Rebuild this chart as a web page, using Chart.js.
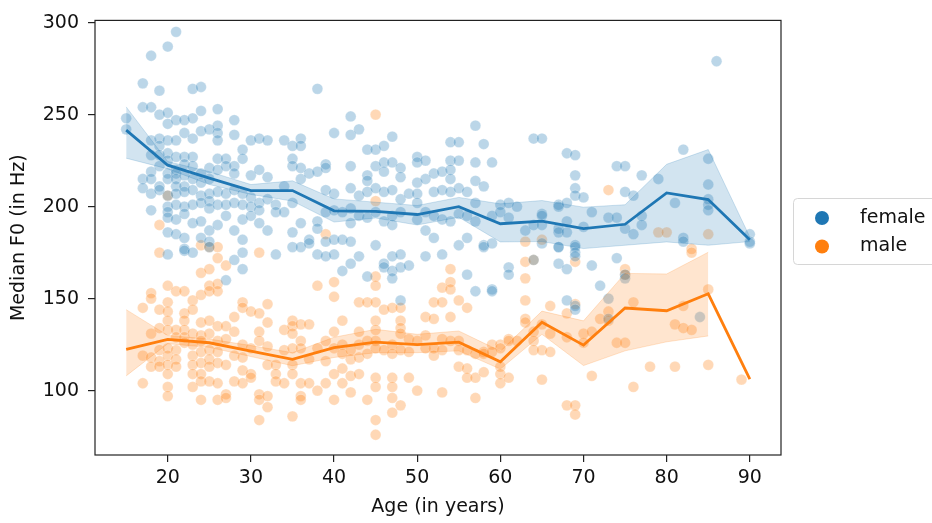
<!DOCTYPE html>
<html>
<head>
<meta charset="utf-8">
<script src="https://cdn.jsdelivr.net/npm/chart.js@4.4.1/dist/chart.umd.min.js"></script>
<style>
  html, body { margin: 0; padding: 0; background: #fff; }
</style>
</head>
<body>
<canvas id="f0-by-age" width="932" height="523"></canvas>
<script>
// [age, median F0]
const femalePoints = [
  [15,248],[15,242],
  [17,267],[17,254],[17,215],[17,210],
  [18,282],[18,254],[18,236],[18,228],[18,219],[18,215],[18,207],[18,198],
  [19,263],[19,250],[19,237],[19,233],[19,228],[19,222],[19,211],[19,209],
  [20,287],[20,251],[20,245],[20,236],[20,229],[20,225],[20,218],[20,215],[20,206],[20,200],[20,197],[20,194],[20,186],[20,174],
  [21,295],[21,247],[21,236],[21,227],[21,220],[21,218],[21,215],[21,211],[21,207],[21,201],[21,193],[21,185],
  [22,247],[22,240],[22,227],[22,223],[22,217],[22,211],[22,208],[22,200],[22,196],[22,183],[22,177],[22,176],
  [23,264],[23,248],[23,237],[23,227],[23,222],[23,215],[23,209],[23,201],[23,191],[23,175],
  [24,265],[24,252],[24,241],[24,218],[24,213],[24,206],[24,202],[24,192],[24,183],
  [25,242],[25,221],[25,215],[25,207],[25,203],[25,199],[25,187],[25,181],[25,178],
  [26,253],[26,244],[26,240],[26,236],[26,226],[26,220],[26,208],[26,201],[26,190],
  [27,226],[27,222],[27,207],[27,201],[27,195],[27,160],
  [28,247],[28,239],[28,222],[28,218],[28,209],[28,202],[28,187],[28,171],
  [29,231],[29,226],[29,207],[29,201],[29,193],[29,182],[29,175],[29,166],
  [30,236],[30,217],[30,205],[30,200],[30,195],
  [31,237],[31,220],[31,202],[31,198],[31,191],
  [32,236],[32,216],[32,204],[32,187],
  [33,201],[33,197],[33,174],
  [34,236],[34,211],[34,197],
  [35,233],[35,226],[35,222],[35,202],[35,186],[35,178],
  [36,237],[36,233],[36,221],[36,215],[36,191],[36,178],
  [37,218],[37,182],[37,180],
  [38,264],[38,219],[38,192],[38,188],[38,174],
  [39,223],[39,221],[39,209],[39,197],[39,181],[39,173],
  [40,240],[40,207],[40,198],[40,182],[40,174],
  [41,197],[41,182],[41,165],
  [42,249],[42,239],[42,222],[42,210],[42,199],[42,191],[42,181],[42,169],
  [43,242],[43,206],[43,195],[43,173],
  [44,231],[44,217],[44,214],[44,208],[44,194],[44,162],
  [45,231],[45,222],[45,210],[45,197],[45,179],
  [46,233],[46,224],[46,219],[46,208],[46,192],[46,169],[46,167],
  [47,238],[47,224],[47,209],[47,195],[47,190],[47,173],[47,165],[47,161],
  [48,221],[48,216],[48,204],[48,197],[48,174],[48,167],[48,149],
  [49,207],[49,168],
  [50,227],[50,224],[50,213],[50,207],[50,202],[50,193],
  [51,225],[51,215],[51,197],[51,187],[51,173],
  [52,218],[52,208],[52,195],[52,183],
  [53,219],[53,209],[53,193],[53,174],
  [54,235],[54,225],[54,220],[54,215],[54,208],[54,192],
  [55,235],[55,225],[55,210],[55,196],[55,179],
  [56,208],[56,195],[56,183],[56,163],
  [57,244],[57,224],[57,214],[57,202],[57,192],[57,154],
  [58,234],[58,211],[58,179],[58,178],
  [59,224],[59,195],[59,180],[59,155],[59,154],
  [60,201],[60,197],
  [61,202],[61,194],[61,167],[61,163],
  [62,200],[63,187],
  [64,237],[64,190],[64,171],
  [65,237],[65,196],[65,195],[65,190],[65,180],
  [67,201],[67,200],[67,188],[67,186],[67,178],[67,178],[67,169],
  [68,229],[68,202],[68,192],[68,186],[68,166],[68,149],
  [69,228],[69,217],[69,210],[69,206],[69,179],[69,178],[69,175],[69,173],[69,146],[69,144],
  [70,205],[70,189],
  [71,197],[71,168],
  [72,157],
  [73,194],[73,150],[73,139],
  [74,222],[74,194],[74,172],
  [75,222],[75,208],[75,188],[75,163],[75,161],
  [76,206],[76,185],
  [77,217],[77,195],[77,190],
  [79,215],[81,202],
  [82,231],[82,183],[82,181],
  [84,140],
  [85,226],[85,212],[85,204],[85,201],[85,198],
  [86,279],
  [90,185],[90,181],[90,180]
];

const malePoints = [
  [17,145],[17,119],[17,104],
  [18,153],[18,150],[18,131],[18,118],[18,113],
  [19,190],[19,175],[19,144],[19,134],[19,122],[19,116],[19,113],
  [20,206],[20,157],[20,148],[20,143],[20,138],[20,133],[20,123],[20,119],[20,114],[20,109],[20,102],[20,97],
  [21,154],[21,133],[21,129],[21,122],[21,117],[21,113],
  [22,154],[22,142],[22,138],[22,133],[22,129],[22,126],
  [23,149],[23,144],[23,131],[23,125],[23,119],[23,114],[23,109],[23,102],
  [24,179],[24,164],[24,152],[24,137],[24,130],[24,127],[24,121],[24,115],[24,109],[24,105],[24,95],
  [25,178],[25,166],[25,157],[25,154],[25,138],[25,131],[25,122],[25,117],[25,113],[25,105],
  [26,178],[26,172],[26,158],[26,154],[26,135],[26,127],[26,121],[26,115],[26,104],[26,95],
  [27,168],[27,135],[27,128],[27,114],[27,98],[27,96],
  [28,140],[28,132],[28,119],[28,105],
  [29,148],[29,145],[29,125],[29,118],[29,111],[29,104],
  [30,143],[30,123],[30,109],[30,107],
  [31,175],[31,142],[31,132],[31,127],[31,98],[31,95],[31,84],
  [32,147],[32,137],[32,124],[32,114],[32,97],[32,91],
  [33,114],[33,109],[33,105],
  [34,133],[34,122],[34,104],
  [35,138],[35,135],[35,131],[35,123],[35,114],[35,109],[35,86],
  [36,136],[36,127],[36,123],[36,104],[36,97],[36,95],
  [37,136],[37,117],[37,104],
  [38,157],[38,123],[38,100],
  [39,185],[39,127],[39,116],[39,104],
  [40,159],[40,151],[40,132],[40,123],[40,109],[40,95],
  [41,138],[41,125],[41,120],[41,112],[41,104],
  [42,122],[42,117],[42,108],[42,99],
  [43,148],[43,132],[43,125],[43,118],[43,109],
  [44,148],[44,127],[44,120],[44,95],
  [45,250],[45,203],[45,162],[45,157],[45,148],[45,138],[45,133],[45,127],[45,123],[45,107],[45,102],[45,84],[45,76],
  [46,144],[46,122],
  [47,145],[47,125],[47,120],[47,107],[47,102],[47,96],[47,88],
  [48,145],[48,138],[48,134],[48,131],[48,122],[48,92],
  [49,128],[49,121],[49,107],
  [50,127],[50,100],
  [51,140],[51,130],[51,123],
  [52,148],[52,139],[52,123],[52,119],
  [53,156],[53,148],[53,128],[53,122],[53,99],
  [54,166],[54,159],[54,155],[54,140],[54,127],
  [55,149],[55,127],[55,122],[55,113],
  [56,145],[56,122],[56,112],[56,107],
  [57,120],[57,107],[57,96],
  [58,121],[58,120],[58,110],
  [59,125],[59,121],
  [60,125],[60,123],[60,113],[60,109],[60,104],
  [61,128],[61,127],[61,107],
  [62,127],
  [63,181],[63,170],[63,161],[63,149],[63,139],[63,137],
  [64,171],[64,132],[64,127],[64,122],
  [65,182],[65,136],[65,122],[65,106],
  [66,146],[66,131],[66,121],
  [68,142],[68,129],[68,92],
  [69,170],[69,147],[69,92],[69,87],
  [70,131],[70,126],
  [71,132],[71,108],
  [72,139],
  [73,209],[73,143],[73,138],
  [74,126],
  [75,166],[75,163],[75,126],
  [76,148],[76,102],
  [78,113],[79,186],[80,186],
  [81,136],[81,113],
  [82,146],[82,134],
  [83,177],[83,175],[83,133],
  [85,185],[85,155],[85,114],
  [89,106]
];

// mean line and confidence band, by 5-year age bin
const binAges = [15, 20, 25, 30, 35, 40, 45, 50, 55, 60, 65, 70, 75, 80, 85, 90];
const femaleMean = [241.6, 222.5, 215.5, 208.7, 208.7, 197.7, 197.4, 195.7, 200.0, 190.7, 192.1, 188.0, 190.4, 207.4, 203.8, 182.0];
const femaleUpper = [254.2, 224.5, 219.0, 212.0, 214.0, 204.2, 202.4, 200.6, 205.0, 201.5, 203.3, 199.7, 201.0, 223.0, 231.0, 183.5];
const femaleLower = [226.3, 220.5, 212.0, 206.6, 203.0, 191.6, 193.8, 190.0, 194.2, 180.8, 181.0, 177.2, 179.0, 180.8, 179.0, 181.0];
const maleMean = [122.4, 127.8, 126.0, 121.5, 117.0, 123.3, 126.3, 125.0, 126.3, 115.7, 137.1, 124.7, 144.9, 143.4, 152.6, 106.2];
const maleUpper = [144.0, 130.0, 128.0, 124.5, 120.6, 129.0, 133.3, 130.6, 132.4, 121.5, 143.2, 137.9, 163.7, 163.4, 175.2, null];
const maleLower = [108.0, 125.5, 123.5, 118.5, 113.5, 118.0, 120.6, 120.6, 121.6, 111.7, 130.6, 113.6, 121.6, 126.5, 129.7, null];

const xTicks = [20, 30, 40, 50, 60, 70, 80, 90];
const yTicks = [100, 150, 200, 250, 300];

const BLUE = '31, 119, 180';
const ORANGE = '255, 127, 14';

const toXY = pts => pts.map(([x, y]) => ({ x, y }));
const binned = vals => binAges.map((x, i) => ({ x, y: vals[i] }));

const scatterSet = (label, pts, rgb) => ({
  type: 'scatter',
  label,
  data: toXY(pts),
  backgroundColor: `rgba(${rgb}, 0.3)`,
  borderColor: 'rgba(255, 255, 255, 0.3)',
  borderWidth: 0.8,
  pointRadius: 5.4,
  order: 10
});

const bandEdge = (vals, rgb, fill) => ({
  type: 'line',
  data: binned(vals),
  borderColor: `rgba(${rgb}, 0.2)`,
  borderWidth: 1,
  backgroundColor: `rgba(${rgb}, 0.2)`,
  pointRadius: 0,
  tension: 0,
  fill,
  order: 5
});

const meanLine = (vals, rgb) => ({
  type: 'line',
  data: binned(vals),
  borderColor: `rgb(${rgb})`,
  borderWidth: 2.8,
  pointRadius: 0,
  tension: 0,
  fill: false,
  order: 1
});

// full box round the plot, like matplotlib spines
const frame = {
  id: 'frame',
  afterDatasetsDraw(chart) {
    const { ctx, chartArea: a } = chart;
    ctx.save();
    ctx.strokeStyle = '#222';
    ctx.lineWidth = 1.2;
    ctx.strokeRect(a.left, a.top, a.right - a.left, a.bottom - a.top);
    ctx.restore();
  }
};

const legendBox = {
  id: 'legendBox',
  afterDraw(chart) {
    const ctx = chart.ctx;
    ctx.save();
    ctx.beginPath();
    ctx.roundRect(793.5, 198.5, 160, 66, 4);
    ctx.fillStyle = 'rgba(255, 255, 255, 0.8)';
    ctx.fill();
    ctx.strokeStyle = '#d6d6d6';
    ctx.lineWidth = 1;
    ctx.stroke();
    const items = [['female', BLUE, 218], ['male', ORANGE, 246.5]];
    ctx.font = '19px "DejaVu Sans"';
    ctx.textBaseline = 'middle';
    ctx.textAlign = 'left';
    items.forEach(([text, rgb, y]) => {
      ctx.beginPath();
      ctx.arc(822, y, 7, 0, Math.PI * 2);
      ctx.fillStyle = `rgb(${rgb})`;
      ctx.fill();
      ctx.fillStyle = '#111';
      ctx.fillText(text, 860, y);
    });
    ctx.restore();
  }
};

Chart.defaults.font.family = '"DejaVu Sans", sans-serif';
Chart.defaults.font.size = 19;
Chart.defaults.color = '#111';

const ctx = document.getElementById('f0-by-age').getContext('2d');
new Chart(ctx, {
  type: 'scatter',
  data: {
    datasets: [
      scatterSet('female', femalePoints, BLUE),
      scatterSet('male', malePoints, ORANGE),
      bandEdge(femaleLower, BLUE, false),
      bandEdge(femaleUpper, BLUE, 2),
      meanLine(femaleMean, BLUE),
      bandEdge(maleLower, ORANGE, false),
      bandEdge(maleUpper, ORANGE, 5),
      meanLine(maleMean, ORANGE)
    ]
  },
  options: {
    responsive: false,
    animation: false,
    devicePixelRatio: 1,
    layout: { padding: { left: 0, right: 151, top: 17, bottom: 0 } },
    plugins: {
      legend: { display: false },
      tooltip: { enabled: false }
    },
    scales: {
      x: {
        type: 'linear',
        min: 11.25,
        max: 93.75,
        afterBuildTicks: scale => { scale.ticks = xTicks.map(value => ({ value })); },
        afterFit: scale => { scale.height = 68; },
        grid: { drawOnChartArea: false, drawTicks: true, tickLength: 7, color: '#222', lineWidth: 1.2 },
        border: { display: false },
        ticks: { padding: 5, maxRotation: 0 },
        title: { display: true, text: 'Age (in years)', padding: { top: 0, bottom: 5 } }
      },
      y: {
        type: 'linear',
        min: 65,
        max: 301.2,
        afterBuildTicks: scale => { scale.ticks = yTicks.map(value => ({ value })); },
        afterFit: scale => { scale.width = 95; },
        grid: { drawOnChartArea: false, drawTicks: true, tickLength: 7, color: '#222', lineWidth: 1.2 },
        border: { display: false },
        ticks: { padding: 9 },
        title: { display: true, text: 'Median F0 (in Hz)', padding: { top: 8, bottom: 0 } }
      }
    }
  },
  plugins: [frame, legendBox]
});
</script>
</body>
</html>
